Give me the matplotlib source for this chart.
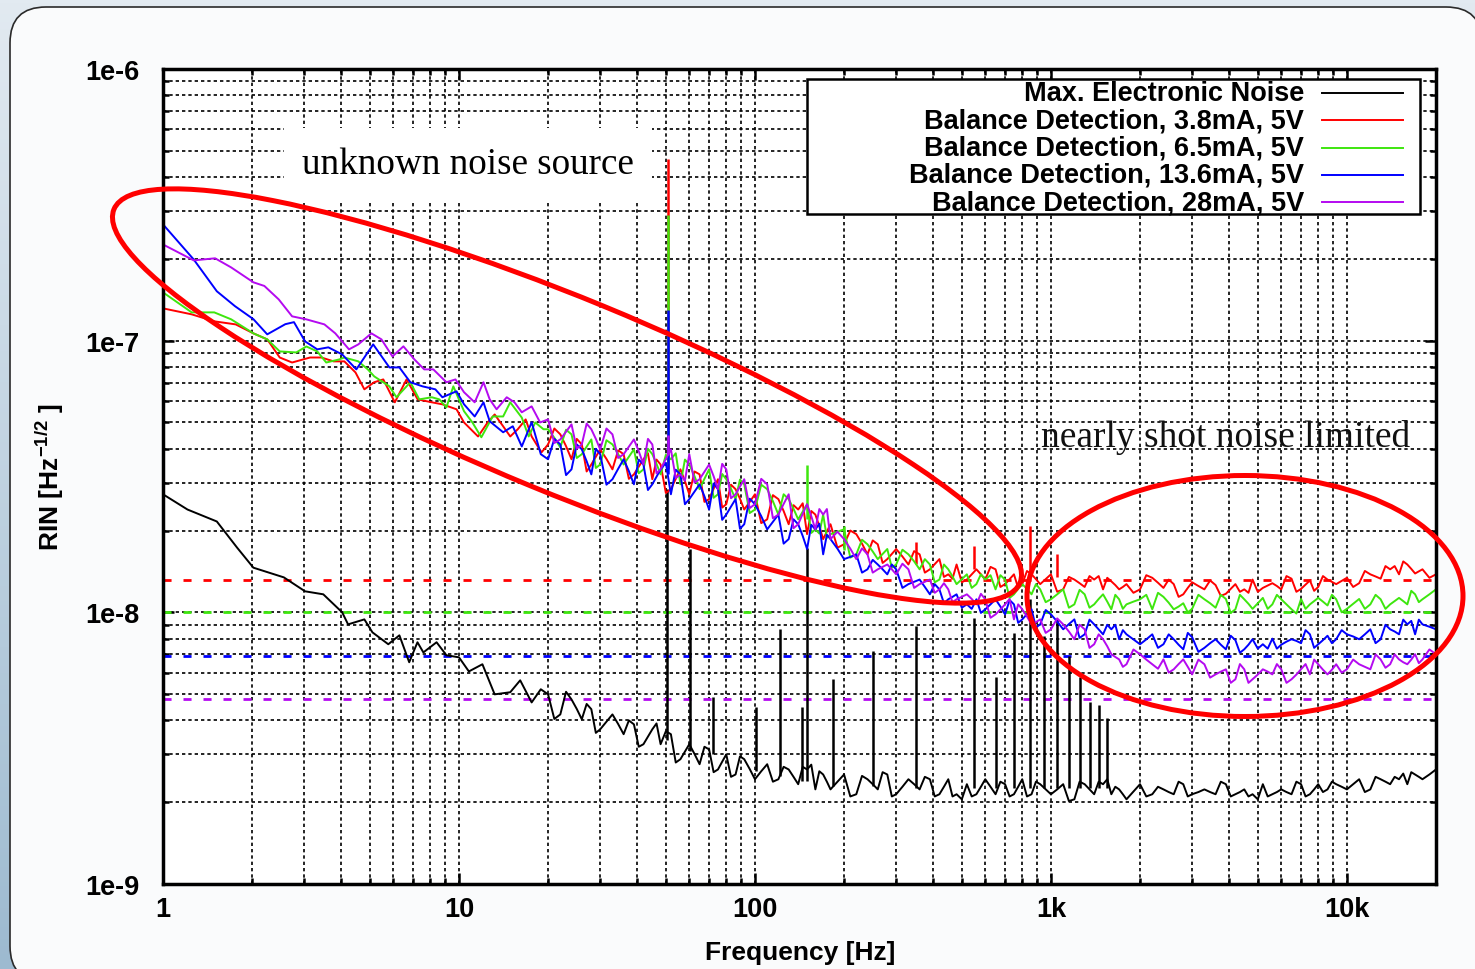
import numpy as np
import matplotlib
matplotlib.use("Agg")
import matplotlib.pyplot as plt
from matplotlib.patches import Ellipse, FancyBboxPatch, Rectangle
from matplotlib.colors import LinearSegmentedColormap
from matplotlib.ticker import FixedLocator, FixedFormatter, LogLocator, NullFormatter

plt.rcParams["font.family"] = ["Liberation Sans", "DejaVu Sans"]
plt.rcParams["font.weight"] = "bold"

W, H = 1475, 970

# ---------------- data (RIN in units of 1e-9 Hz^-1/2) ----------------
labels = ["Max. Electronic Noise",
          "Balance Detection, 3.8mA, 5V",
          "Balance Detection, 6.5mA, 5V",
          "Balance Detection, 13.6mA, 5V",
          "Balance Detection, 28mA, 5V"]
colors = ["#000000", "#ff0000", "#3ee60e", "#0000ff", "#b40af0"]

# shot noise level of each balanced detection trace (dashed lines)
shot_levels = [13.1, 10.0, 6.9, 4.8]

# below 20 Hz, read point by point
elec_lf_f = [1.0, 1.21, 1.52, 1.78, 2.02, 2.56, 3.02, 3.48, 4.03, 4.22,
             4.79, 5.10, 5.77, 6.29, 6.79, 7.24, 7.58, 8.40, 9.07, 10.0,
             10.8, 12.0, 13.2, 14.9, 16.1, 17.6, 18.9]
elec_lf = [27.2, 23.9, 21.6, 17.3, 14.6, 13.45, 11.95, 11.65, 10.0, 9.03,
           9.42, 8.44, 7.63, 8.23, 6.55, 7.76, 7.12, 7.76, 6.95, 6.83,
           6.06, 6.44, 4.99, 5.08, 5.62, 4.66, 5.21]

red_lf_f = [1.0, 1.25, 1.49, 1.76, 2.02, 2.25, 2.48, 2.73, 3.14, 3.43,
            3.77, 4.10, 4.47, 4.79, 5.17, 5.55, 6.07, 6.65, 7.25, 8.10,
            8.79, 9.81, 10.4, 11.6, 12.5, 13.2, 14.1, 14.9, 15.8, 16.8,
            17.6, 19.0]
red_lf = [131.5, 125.0, 117.8, 114.8, 106.4, 101.1, 86.7, 83.1, 86.7, 86.7,
          83.9, 83.9, 76.4, 66.2, 70.3, 72.0, 59.3, 72.0, 60.8, 59.3,
          58.3, 55.9, 50.0, 44.4, 50.0, 53.5, 48.4, 44.4, 47.2, 51.3,
          44.4, 38.8]

green_lf_f = [1.0, 1.25, 1.49, 1.70, 2.02, 2.25, 2.48, 2.82, 3.05, 3.32,
              3.56, 3.94, 4.10, 4.57, 4.92, 5.17, 5.82, 6.15, 6.85, 7.34,
              8.10, 8.58, 9.07, 9.57, 10.4, 11.1, 11.9, 13.0, 14.1, 14.9,
              16.3, 17.2, 18.1, 19.3]
green_lf = [150.6, 127.1, 127.1, 119.8, 106.4, 101.1, 91.3, 90.5, 95.2, 91.3,
            83.1, 85.3, 86.7, 83.9, 78.4, 73.9, 67.9, 61.9, 70.3, 60.8,
            61.9, 60.8, 56.8, 67.9, 55.0, 50.0, 44.1, 52.6, 52.6, 59.3,
            52.1, 44.4, 50.0, 47.2]

blue_lf_f = [1.0, 1.27, 1.52, 1.75, 2.02, 2.25, 2.59, 2.77, 3.02, 3.32,
             3.62, 4.03, 4.50, 5.13, 5.82, 6.29, 6.85, 7.53, 8.32, 8.79,
             9.81, 10.4, 11.3, 12.1, 12.7, 14.1, 15.2, 16.3, 17.6, 18.9]
blue_lf = [268, 199, 152, 134, 120, 105.5, 115, 117, 99.4, 92.9,
           94.5, 89.0, 78.4, 96.9, 79.7, 79.7, 70.3, 67.9, 66.2, 61.9,
           65.1, 58.3, 52.6, 59.3, 50.5, 46.0, 48.4, 40.8, 50.1, 38.2]

magenta_lf_f = [1.0, 1.27, 1.50, 1.70, 2.02, 2.20, 2.46, 2.73, 3.05, 3.51,
                3.82, 4.25, 4.57, 5.06, 5.47, 5.96, 6.49, 7.07, 7.63, 8.19,
                9.07, 9.73, 10.4, 11.3, 12.1, 12.7, 13.4, 14.5, 15.4, 16.3,
                17.6, 18.8]
magenta_lf = [226, 197.5, 201, 186, 164, 159, 141.9, 122.9, 119.8, 114.8,
              106.4, 92.9, 96.9, 106.4, 101.1, 87.5, 95.3, 85.3, 78.4, 78.4,
              70.3, 72.0, 64.6, 59.3, 70.3, 60.8, 55.9, 61.9, 59.3, 54.5,
              57.3, 50.0]

# from 20 Hz on, all traces read on one frequency list (plus the points in between)
mant = [1.0, 1.1, 1.2, 1.3, 1.4, 1.5, 1.6, 1.7, 1.8, 2.0, 2.2, 2.4, 2.6, 2.8, 3.0,
        3.3, 3.6, 3.9, 4.2, 4.5, 4.8, 5.2, 5.6, 6.0, 6.5, 7.0, 7.5, 8.0, 8.6, 9.2]
mid_mant = [1.05, 1.15, 1.25, 1.35, 1.45, 1.55, 1.65, 1.75, 1.9, 2.1, 2.3, 2.5, 2.7,
            2.9, 3.15, 3.45, 3.75, 4.05, 4.35, 4.65, 5.0, 5.4, 5.8, 6.25, 6.75,
            7.25, 7.75, 8.3, 8.9, 9.6]
hf_freq = [round(m * 10 ** e, 3) for e in (1, 2, 3, 4) for m in mant]
hf_freq = [f for f in hf_freq if 20 <= f <= 20000]
hf_mid_freq = [round(m * 10 ** e, 3) for e in (1, 2, 3, 4) for m in mid_mant]
hf_mid_freq = [f for f in hf_mid_freq if 20 < f < 20000]

elec_hf = [4.99, 4.21, 4.78, 4.04, 4.40, 3.71, 4.21, 3.56, 3.87, 3.27,
           3.71, 3.27, 3.56, 2.88, 3.27, 2.76, 3.13, 2.64, 3.00, 2.53,
           2.88, 2.43, 2.76, 2.43, 2.64, 2.33, 2.64, 2.23, 2.53, 2.23,
           2.53, 2.14, 2.43, 2.23, 2.53, 2.14, 2.43, 2.23, 2.43, 2.14,
           2.43, 2.14, 2.33, 2.14, 2.43, 2.14, 2.33, 2.14, 2.43, 2.14,
           2.33, 2.14, 2.33, 2.05, 2.33, 2.14, 2.33, 2.14, 2.23, 2.05,
           2.33, 2.14, 2.23, 2.14, 2.33, 2.14, 2.23, 2.14, 2.33, 2.14,
           2.23, 2.14, 2.33, 2.14, 2.23, 2.14, 2.33, 2.14, 2.33, 2.23,
           2.33, 2.23, 2.43, 2.23, 2.43, 2.33, 2.43, 2.33, 2.53, 2.43, 2.64]
elec_mid = [4.05, 5.1, 4.41, 4.6, 3.6, 3.96, 3.88, 4.0, 3.2, 3.49,
            3.9, 3.65, 2.8, 3.07, 3.01, 3.2, 2.58, 2.82, 2.48, 2.95,
            2.65, 2.6, 2.38, 2.7, 2.48, 2.7, 2.75, 2.6, 2.38, 2.38,
            2.1, 2.5, 2.33, 2.58, 2.1, 2.28, 2.33, 2.48, 2.1, 2.28,
            2.1, 2.05, 2.1, 2.28, 2.28, 2.38, 2.1, 2.28, 2.1, 2.38,
            2.23, 2.23, 2.02, 2.38, 2.23, 2.38, 2.43, 2.28, 2.14, 2.19,
            2.1, 2.28, 2.18, 2.38, 2.1, 2.18, 2.18, 2.38, 2.1, 2.18,
            2.1, 2.05, 2.1, 2.18, 2.18, 2.38, 2.1, 2.23, 2.18, 2.38,
            2.28, 2.33, 2.18, 2.48, 2.38, 2.48, 2.55, 2.58, 2.48, 2.53]

red_hf = [41.5, 45.2, 36.6, 41.5, 35.0, 39.8, 33.6, 38.2, 32.2, 36.6,
          30.9, 35.0, 28.4, 33.6, 27.2, 32.2, 26.1, 30.9, 25.0, 28.4,
          23.9, 27.2, 22.0, 26.1, 21.1, 23.9, 19.4, 22.9, 18.6, 21.1,
          17.8, 19.4, 16.35, 17.8, 15.7, 17.1, 15.0, 16.35, 14.4, 15.7,
          13.8, 15.0, 13.2, 14.4, 13.2, 14.4, 12.7, 13.8, 12.7, 13.8,
          12.7, 13.8, 12.15, 13.2, 12.4, 13.2, 12.15, 13.0, 12.15, 12.7,
          12.15, 13.4, 12.3, 12.7, 11.65, 12.9, 12.15, 12.6, 11.7, 12.7,
          12.15, 13.2, 12.3, 12.8, 12.15, 13.3, 12.2, 13.1, 12.4, 13.2,
          12.7, 13.4, 12.8, 13.8, 13.3, 14.4, 13.8, 15.0, 13.9, 14.4, 13.8]
red_mid = [47.5, 40.9, 43.5, 33.0, 37.4, 36.7, 39.5, 31.0, 34.4, 38.5,
           36.5, 27.5, 31.0, 30.4, 33.0, 25.5, 28.5, 24.3, 29.5, 26.2,
           25.5, 21.3, 27.0, 23.6, 24.8, 25.2, 23.6, 20.75, 19.85, 17.3,
           20.0, 17.9, 18.4, 15.2, 16.4, 16.05, 16.8, 14.0, 15.05, 13.5,
           13.3, 12.9, 13.8, 13.8, 14.7, 12.4, 13.25, 12.3, 14.2, 13.25,
           13.25, 11.9, 13.5, 12.8, 13.6, 13.6, 13.4, 12.6, 12.4, 11.8,
           13.7, 12.85, 13.2, 11.4, 12.3, 12.5, 13.1, 11.5, 12.2, 11.9,
           11.8, 11.9, 12.55, 12.5, 13.6, 11.9, 12.65, 12.0, 13.6, 12.95,
           13.05, 12.4, 14.2, 13.55, 14.8, 14.8, 15.4, 14.45, 14.15, 13.4]

green_hf = [47.2, 40.5, 45.2, 38.2, 43.3, 35.0, 41.5, 35.0, 39.8, 33.6,
            38.2, 32.2, 36.6, 29.6, 35.0, 28.4, 33.6, 27.2, 30.9, 26.1,
            29.6, 23.9, 28.4, 22.9, 26.1, 22.0, 25.0, 20.2, 22.9, 19.4,
            20.2, 16.35, 17.8, 15.7, 17.1, 15.0, 16.35, 14.4, 15.0, 13.2,
            14.4, 12.7, 13.8, 12.7, 13.2, 12.15, 13.2, 11.65, 12.7, 11.65,
            12.15, 11.17, 12.15, 10.7, 11.65, 10.7, 11.65, 10.26, 11.17, 10.7,
            11.17, 10.26, 11.4, 10.26, 10.8, 10.3, 11.17, 10.4, 11.2, 10.26,
            11.17, 10.3, 11.3, 10.7, 11.17, 10.26, 11.2, 10.7, 11.3, 10.6,
            11.17, 10.3, 11.2, 10.7, 11.17, 10.7, 11.3, 10.7, 11.65, 11.17, 12.15]
green_mid = [43.9, 47.0, 37.0, 40.75, 34.0, 43.0, 38.25, 37.4, 32.5, 40.0,
             35.2, 38.0, 38.5, 36.5, 31.7, 31.0, 26.4, 32.3, 28.5, 30.8,
             23.2, 29.5, 25.65, 27.2, 24.05, 23.5, 19.6, 19.5, 18.8, 19.8,
             15.9, 18.5, 16.75, 16.4, 14.6, 17.0, 15.4, 15.7, 12.9, 15.0,
             13.55, 13.25, 12.3, 13.8, 13.7, 13.7, 11.3, 12.2, 12.2, 12.7,
             10.9, 11.65, 10.4, 12.1, 10.4, 11.2, 10.95, 11.6, 10.3, 10.95,
             11.6, 11.8, 10.85, 10.5, 10.0, 11.6, 10.8, 11.6, 9.95, 11.6,
             10.75, 10.8, 10.3, 11.6, 10.7, 9.9, 10.3, 11.0, 10.95, 11.6,
             10.0, 10.75, 10.3, 11.6, 10.3, 11.0, 11.0, 12.0, 10.9, 11.65]

blue_hf = [36.6, 41.5, 33.6, 39.8, 32.2, 38.2, 30.9, 36.6, 29.6, 35.0,
           29.6, 33.6, 27.2, 32.2, 26.1, 29.6, 23.9, 28.4, 22.9, 26.1,
           21.1, 25.0, 20.2, 22.9, 18.6, 21.1, 17.1, 20.2, 16.35, 18.6,
           15.7, 16.35, 14.4, 15.0, 13.8, 14.4, 12.7, 13.2, 11.65, 12.15,
           11.17, 11.65, 10.7, 11.17, 10.26, 11.17, 9.83, 10.7, 9.42, 10.26,
           9.03, 9.83, 8.66, 9.42, 8.30, 9.03, 8.30, 8.66, 7.96, 8.30,
           7.63, 8.30, 7.63, 7.96, 7.31, 8.1, 7.4, 7.96, 7.31, 7.9,
           7.31, 7.96, 7.63, 8.0, 7.6, 7.96, 7.7, 8.30, 7.63, 8.2,
           7.96, 8.30, 7.96, 8.66, 7.96, 8.66, 8.30, 9.03, 8.30, 9.03, 8.66]
blue_mid = [43.5, 32.0, 41.5, 36.0, 40.0, 29.5, 33.75, 33.1, 36.5, 28.2,
            31.6, 35.5, 33.5, 25.0, 27.85, 26.75, 29.8, 21.9, 24.5, 20.3,
            26.2, 22.6, 21.55, 17.9, 22.0, 19.1, 21.0, 21.2, 19.3, 17.15,
            16.0, 14.0, 15.6, 14.4, 15.0, 12.3, 12.95, 12.4, 12.7, 10.8,
            11.4, 10.4, 10.3, 9.95, 10.7, 10.5, 11.1, 9.15, 9.85, 8.8,
            10.2, 9.25, 9.05, 8.05, 9.4, 8.65, 9.0, 9.0, 8.6, 7.95,
            7.95, 7.4, 8.3, 7.6, 8.4, 7.15, 7.7, 7.6, 8.2, 7.1,
            7.6, 7.35, 7.35, 7.35, 7.8, 7.85, 8.6, 7.4, 7.9, 7.7,
            8.6, 8.15, 8.3, 7.7, 9.0, 8.5, 9.4, 9.3, 9.4, 8.85]

magenta_hf = [51.3, 43.3, 49.2, 41.5, 47.2, 39.8, 45.2, 38.2, 43.3, 35.0,
              41.5, 33.6, 39.8, 32.2, 38.2, 30.9, 35.0, 28.4, 33.6, 27.2,
              30.9, 25.0, 29.6, 22.9, 27.2, 21.1, 25.0, 20.2, 22.9, 18.6,
              18.6, 15.7, 16.35, 14.4, 15.0, 13.8, 14.4, 12.7, 13.2, 12.15,
              12.15, 11.17, 11.65, 10.7, 11.17, 9.83, 10.7, 9.42, 10.26, 9.03,
              9.42, 8.66, 9.03, 7.96, 8.66, 7.63, 7.96, 7.01, 6.71, 6.44,
              7.01, 6.44, 6.71, 6.17, 6.71, 5.91, 6.44, 5.91, 6.17, 5.67,
              6.17, 5.67, 6.17, 5.91, 6.17, 5.67, 6.17, 5.91, 6.44, 5.91,
              6.44, 6.17, 6.44, 6.17, 6.71, 6.44, 6.71, 6.44, 7.01, 6.71, 7.01]
magenta_mid = [42.0, 46.25, 40.0, 49.5, 43.5, 47.5, 37.0, 40.75, 39.15, 43.5,
               32.5, 36.7, 31.2, 30.5, 30.0, 32.95, 31.7, 35.2, 26.3, 29.05,
               24.2, 31.0, 22.2, 25.05, 20.4, 23.05, 22.6, 24.0, 24.0, 19.8,
               17.15, 17.2, 14.0, 14.7, 14.4, 15.1, 12.3, 12.95, 11.8, 12.8,
               10.9, 11.4, 11.2, 11.7, 9.55, 10.25, 11.2, 10.7, 9.65, 9.2,
               8.4, 9.5, 8.5, 9.0, 7.4, 8.3, 7.5, 6.85, 6.3, 7.3,
               6.7, 6.2, 6.0, 6.45, 6.3, 6.7, 5.75, 6.05, 5.5, 6.45,
               5.5, 5.9, 6.05, 6.45, 5.5, 5.9, 6.45, 6.7, 6.15, 6.15,
               6.0, 6.7, 6.3, 7.0, 6.25, 7.0, 6.55, 6.7, 6.5, 7.3]

# mains pick-up peaks of the electronic noise trace
elec_spike_f = [50.5, 60.3, 72.1, 100.7, 121.5, 144, 150, 183.6, 250, 350, 550,
                650, 750, 850, 950, 1050, 1150, 1250, 1350, 1450, 1550]
elec_spike_top = [28.4, 17.1, 4.87, 4.47, 8.66, 4.5, 17.3, 5.67, 7.19, 8.9, 9.5,
                  5.76, 8.37, 11.17, 8.16, 9.42, 6.9, 5.76, 4.66, 4.55, 4.1]
elec_spike_base = [3.4, 3.1, 3.0, 2.6, 2.5, 2.4, 2.4, 2.3, 2.3, 2.25, 2.25,
                   2.25, 2.25, 2.25, 2.25, 2.25, 2.25, 2.25, 2.25, 2.25, 2.25]

# peaks on the balanced detection traces (series index into colors)
line_spike_series = [1, 2, 3, 4, 2, 2, 1, 1, 1, 1]
line_spike_f = [50.8, 50.8, 50.8, 50.8, 150, 200, 350, 550, 850, 1050]
line_spike_top = [465, 290, 130, 45, 35.0, 20.7, 18.1, 17.5, 20.7, 16.35]
line_spike_base = [33.6, 35.0, 32.2, 38.0, 22.0, 17.0, 15.0, 14.4, 13.5, 13.5]

series = [(elec_lf_f, elec_lf, elec_hf, elec_mid),
          (red_lf_f, red_lf, red_hf, red_mid),
          (green_lf_f, green_lf, green_hf, green_mid),
          (blue_lf_f, blue_lf, blue_hf, blue_mid),
          (magenta_lf_f, magenta_lf, magenta_hf, magenta_mid)]

x_ticks = [1, 10, 100, 1000, 10000]
x_ticklabels = ["1", "10", "100", "1k", "10k"]
y_ticks = [1e-9, 1e-8, 1e-7, 1e-6]
y_ticklabels = ["1e-9", "1e-8", "1e-7", "1e-6"]

# ---------------- figure ----------------
fig = plt.figure(figsize=(W / 100, H / 100), dpi=100)

bg = fig.add_axes([0, 0, 1, 1], zorder=-10)
cmap = LinearSegmentedColormap.from_list("bg", ["#e2eaf1", "#9dbad0"])
bg.imshow(np.linspace(0, 1, 256)[:, None], extent=(0, W, H, 0), cmap=cmap, aspect="auto")
bg.add_patch(FancyBboxPatch((10, 8), 1472, 975, boxstyle="round,pad=0,rounding_size=36",
                            fc="#fafbfc", ec="#2a2a2a", lw=1.2))
bg.set_xlim(0, W)
bg.set_ylim(H, 0)
bg.axis("off")

ax = fig.add_axes([163 / W, (H - 885) / H, 1273 / W, 815 / H])
ax.set_facecolor("white")
ax.set_xscale("log")
ax.set_yscale("log")
ax.set_xlim(1, 2e4)
ax.set_ylim(1e-9, 1e-6)

for lvl, col in zip(shot_levels, colors[1:]):
    ax.axhline(lvl * 1e-9, color=col, lw=2.0, ls=(0, (2.9, 4.3)), zorder=1.8)

for k, (lf_f, lf, hf, mid) in enumerate(series):
    f = np.array(lf_f + hf_freq + hf_mid_freq)
    v = np.array(lf + hf + mid) * 1e-9
    order = np.argsort(f)
    ax.plot(f[order], v[order], color=colors[k], lw=1.4, zorder=2 + 0.1 * k)
    if k == 0:
        ax.vlines(elec_spike_f, np.array(elec_spike_base) * 1e-9,
                  np.array(elec_spike_top) * 1e-9, color=colors[0], lw=1.8, zorder=2)
    for s, sf, top, base in zip(line_spike_series, line_spike_f, line_spike_top, line_spike_base):
        if s == k:
            ax.vlines(sf, base * 1e-9, top * 1e-9, color=colors[k], lw=1.8, zorder=2 + 0.1 * k)

ax.xaxis.set_major_locator(FixedLocator(x_ticks))
ax.xaxis.set_major_formatter(FixedFormatter(x_ticklabels))
ax.yaxis.set_major_locator(FixedLocator(y_ticks))
ax.yaxis.set_major_formatter(FixedFormatter(y_ticklabels))
for axis in (ax.xaxis, ax.yaxis):
    axis.set_minor_locator(LogLocator(base=10, subs=np.arange(2, 10), numticks=60))
    axis.set_minor_formatter(NullFormatter())

ax.grid(which="both", color="black", lw=1.2, ls=(0, (2, 1.8)))
ax.tick_params(which="both", direction="in", top=True, right=True, width=1.8)
ax.tick_params(which="major", length=8)
ax.tick_params(which="minor", length=4)
ax.tick_params(axis="x", labelsize=19.5, pad=9)
ax.tick_params(axis="y", labelsize=19.5, pad=17)
for sp in ax.spines.values():
    sp.set_linewidth(2.5)

ax.set_xlabel("Frequency [Hz]", fontsize=19, fontweight="bold", va="center")
ax.xaxis.set_label_coords(0.5004, -0.0834)
ax.set_ylabel(r"RIN [Hz$^{\mathregular{-1/2}}$ ]", fontsize=19, fontweight="bold", va="center")
ax.yaxis.set_label_coords(-0.0888, 0.5)

# legend drawn by hand: right aligned text, sample line on the right
ax.add_patch(Rectangle((0.5059, 0.8221), 0.4815, 0.1656, transform=ax.transAxes,
                       fc="white", ec="black", lw=1.8, zorder=5))
for i, (lab, col) in enumerate(zip(labels, colors)):
    yy = 0.9706 - i * 0.0335
    ax.text(0.8963, yy, lab, transform=ax.transAxes, ha="right", va="center",
            fontsize=19.5, fontweight="bold", zorder=6)
    ax.plot([0.9105, 0.9741], [yy, yy], transform=ax.transAxes, color=col,
            lw=1.4, zorder=6, clip_on=False)

ax.text(0.2396, 0.8834, "unknown noise source", transform=ax.transAxes,
        ha="center", va="center", fontsize=26.7, family="Liberation Serif",
        fontweight="normal",
        bbox=dict(boxstyle="square,pad=0.5", fc="white", ec="none"), zorder=4)
ax.text(0.835, 0.5485, "nearly shot noise limited", transform=ax.transAxes,
        ha="center", va="center", fontsize=27, family="Liberation Serif",
        fontweight="normal", color="#111111", zorder=4)

# hand drawn ellipses over everything
ov = fig.add_axes([0, 0, 1, 1], zorder=10)
ov.set_xlim(0, W)
ov.set_ylim(H, 0)
ov.axis("off")
ov.patch.set_visible(False)
ov.add_patch(Ellipse((567, 397), 980, 194, angle=22.4, fill=False, ec="#ff0000", lw=3.6))
ov.add_patch(Ellipse((1245, 597), 436, 241, angle=0, fill=False, ec="#ff0000", lw=3.6))

fig.savefig("out.png", dpi=100)
